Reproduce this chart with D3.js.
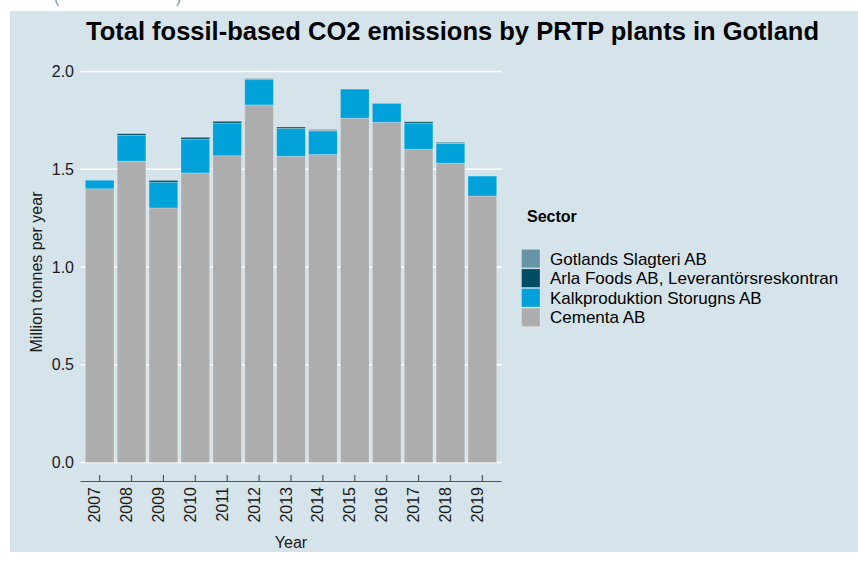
<!DOCTYPE html>
<html>
<head>
<meta charset="utf-8">
<script src="https://cdn.jsdelivr.net/npm/d3@7"></script>
<style>
  html, body { margin: 0; padding: 0; background: #ffffff; }
  svg { display: block; font-family: "Liberation Sans", Arial, sans-serif; }
</style>
</head>
<body>
<svg id="chart" width="858" height="561"></svg>
<script>
// ---- data ----
const years = ["2007","2008","2009","2010","2011","2012","2013","2014","2015","2016","2017","2018","2019"];
const cementa  = [1.400, 1.541, 1.302, 1.481, 1.569, 1.829, 1.566, 1.575, 1.761, 1.740, 1.602, 1.531, 1.363];
const kalk     = [0.044, 0.133, 0.132, 0.173, 0.167, 0.129, 0.143, 0.121, 0.149, 0.097, 0.134, 0.100, 0.102];
const arla     = [0.000, 0.008, 0.009, 0.009, 0.009, 0.003, 0.007, 0.002, 0.000, 0.000, 0.007, 0.002, 0.000];
const gotlands = [0.000, 0.000, 0.000, 0.000, 0.000, 0.004, 0.000, 0.006, 0.000, 0.000, 0.000, 0.006, 0.000];
const sectors = ["Cementa AB", "Kalkproduktion Storugns AB", "Arla Foods AB, Leverantörsreskontran", "Gotlands Slagteri AB"];
const sectorColors = ["#adadad", "#01a2d9", "#014d64", "#6794a7"];
const yTicks = [0, 0.5, 1.0, 1.5, 2.0];
const titleText = "Total fossil-based CO2 emissions by PRTP plants in Gotland";

// ---- build table ----
const seriesVals = [cementa, kalk, arla, gotlands];
const rows = years.map((y, i) => {
  const r = { year: y };
  sectors.forEach((s, k) => r[s] = seriesVals[k][i]);
  return r;
});
const stacked = d3.stack().keys(sectors)(rows);

const svg = d3.select("#chart");

// panel background
svg.append("rect").attr("x", 10).attr("y", 11).attr("width", 848).attr("height", 541).attr("fill", "#d5e4eb");

// cut-off text remnants at top (bottom of a caption line above the crop)
svg.append("text").attr("x", 54).attr("y", 3).attr("font-size", 16).attr("fill", "#7a97b2").text("(");
svg.append("text").attr("x", 176).attr("y", 3).attr("font-size", 16).attr("fill", "#7a97b2").text(")");

const x = d3.scaleBand().domain(years).range([80.5, 501.5]).paddingInner(0.1).paddingOuter(0.15);
const y = d3.scaleLinear().domain([0, 2]).range([462.5, 71.5]);

// gridlines
svg.append("g").selectAll("line").data(yTicks).join("line")
  .attr("x1", 80.5).attr("x2", 501.5)
  .attr("y1", d => y(d)).attr("y2", d => y(d))
  .attr("stroke", "#ffffff").attr("stroke-width", 1.6);

// y tick labels
svg.append("g").selectAll("text").data(yTicks).join("text")
  .attr("x", 74).attr("y", d => y(d)).attr("dy", "0.35em")
  .attr("text-anchor", "end").attr("font-size", 16).attr("fill", "#1a1a1a")
  .text(d => d3.format(".1f")(d));

// bars
const layers = svg.append("g").selectAll("g").data(stacked).join("g")
  .attr("fill", (d, i) => sectorColors[i]);
layers.selectAll("rect").data(d => d.filter(p => p[1] - p[0] > 0)).join("rect")
  .attr("x", d => x(d.data.year))
  .attr("width", x.bandwidth())
  .attr("y", d => y(d[1]))
  .attr("height", d => y(d[0]) - y(d[1]))
  .attr("stroke", "rgba(255,255,255,0.3)")
  .attr("stroke-width", 0.8);

// x axis
const xAxisG = svg.append("g").attr("transform", "translate(0,481.5)");
xAxisG.append("line").attr("x1", 80.5).attr("x2", 501.5).attr("y1", 0).attr("y2", 0)
  .attr("stroke", "#555555").attr("stroke-width", 1.2);
xAxisG.selectAll("line.tick").data(years).join("line").attr("class", "tick")
  .attr("x1", d => x(d) + x.bandwidth() / 2).attr("x2", d => x(d) + x.bandwidth() / 2)
  .attr("y1", 0).attr("y2", -6.5)
  .attr("stroke", "#555555").attr("stroke-width", 1.2);
xAxisG.selectAll("text").data(years).join("text")
  .attr("transform", d => `translate(${x(d) + x.bandwidth() / 2 + 0.5},5.5) rotate(-90)`)
  .attr("text-anchor", "end").attr("font-size", 16).attr("fill", "#1a1a1a")
  .text(d => d);

// axis titles
svg.append("text").attr("x", 291).attr("y", 548).attr("text-anchor", "middle")
  .attr("font-size", 16).attr("fill", "#1a1a1a").text("Year");
svg.append("text").attr("transform", "translate(42,272) rotate(-90)").attr("text-anchor", "middle")
  .attr("font-size", 16).attr("fill", "#1a1a1a").text("Million tonnes per year");

// title
svg.append("text").attr("x", 452.5).attr("y", 40).attr("text-anchor", "middle")
  .attr("font-size", 25.5).attr("font-weight", "bold").attr("fill", "#000000").text(titleText);

// legend
const legend = svg.append("g");
legend.append("text").attr("x", 527).attr("y", 221.5).attr("font-size", 16).attr("font-weight", "bold")
  .attr("fill", "#000000").text("Sector");
const legendOrder = sectors.map((s, i) => i).reverse();
const lg = legend.selectAll("g.item").data(legendOrder).join("g").attr("class", "item")
  .attr("transform", (d, j) => `translate(521.5,${249.3 + j * 19.6})`);
lg.append("rect").attr("width", 18.5).attr("height", 18.5).attr("fill", d => sectorColors[d])
  .attr("stroke", "rgba(255,255,255,0.3)").attr("stroke-width", 0.8);
lg.append("text").attr("x", 28.5).attr("y", 9.3).attr("dy", "0.35em").attr("font-size", 17)
  .attr("fill", "#000000").text(d => sectors[d]);
</script>
</body>
</html>
